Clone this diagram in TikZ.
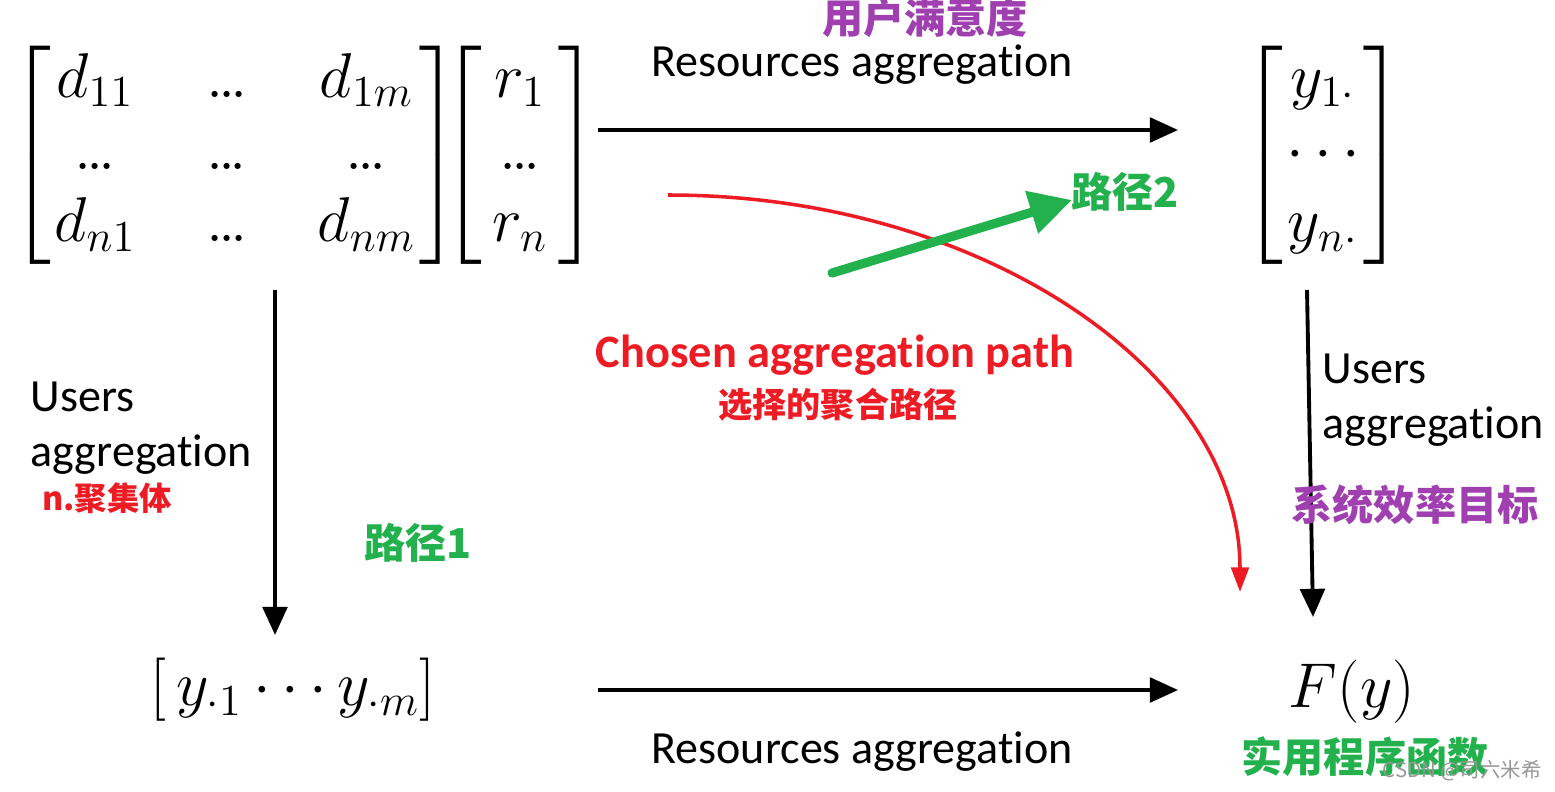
\RequirePackage{fix-cm}
\documentclass[tikz,border=0pt]{standalone}
\usepackage{amsmath}
\usepackage{fontspec}
\usetikzlibrary{arrows.meta,positioning}
\newfontfamily\calibri[Ligatures=CommonOff]{Carlito}
\newfontfamily\cjk{Noto Sans CJK SC}
\newcommand\mydots{{.}\mkern-1.5mu{.}\mkern-1.5mu{.}}
\definecolor{cnpurple}{RGB}{160,64,176}
\definecolor{cngreen}{RGB}{34,177,76}
\definecolor{cnred}{RGB}{237,28,36}
\definecolor{wmgray}{RGB}{150,150,150}

\begin{document}
\begin{tikzpicture}[x=0.01cm,y=-0.01cm,
  agg/.style={-{Triangle[length=8pt,width=7pt]},line width=1.1pt},
  eng/.style={inner sep=0pt,font=\calibri\fontsize{13.1}{15.6}\selectfont},
  mat/.style={inner sep=0pt,font=\fontsize{18}{20.5}\selectfont},
  note/.style={inner sep=0pt,font=\cjk\bfseries\fontsize{11.7}{14}\selectfont}]
\useasboundingbox (0,0) rectangle (1555,791);
% matrices
\node[mat] (dmat) at (235,155) {$\left[\begin{array}{@{\hspace{1pt}}c@{\hspace{20pt}}c@{\hspace{20pt}}c@{\hspace{1pt}}} d_{11} & \mydots & d_{1m}\\ \mydots & \mydots & \mydots\\ d_{n1} & \mydots & d_{nm}\end{array}\right]$};
\node[mat] (rvec) at (520,155) {$\left[\begin{array}{@{\hspace{3pt}}c@{\hspace{3pt}}} r_1\\ \mydots\\ r_n\end{array}\right]$};
\node[mat] (yvec) at (1323,155) {$\left[\begin{array}{@{\hspace{1pt}}c@{\hspace{1pt}}} y_{1\cdot}\\ \cdots\\ y_{n\cdot}\end{array}\right]$};
\node[mat] (ycol) at (293,690) {$\left[\,y_{\cdot 1}\cdots y_{\cdot m}\right]$};
\node[mat] (fy) at (1352,692) {$F(y)$};
% connector ends
\coordinate (t1) at (598,130); \coordinate (t2) at (1178,130);
\coordinate (b1) at (598,690); \coordinate (b2) at (1178,690);
\coordinate (l1) at (275,290); \coordinate (l2) at (275,635);
\coordinate (r1) at (1307,290); \coordinate (r2) at (1313,617);
\coordinate (c1) at (668,195); \coordinate (c2) at (1240,592);
\coordinate (g1) at (832,273); \coordinate (g2) at (1072,200);
\draw[agg] (t1) -- (t2);
\draw[agg] (b1) -- (b2);
\draw[agg] (l1) -- (l2);
\draw[agg] (r1) -- (r2);
\draw[cnred,line width=1pt,-{Triangle[length=7pt,width=5pt]}] (c1) .. controls (984,195) and (1240,373) .. (c2);
\draw[cngreen,line width=2.6pt,line cap=round,-{Triangle[length=12pt,width=12pt]}] (g1) -- (g2);
% labels
\node[eng] (ratop) at (862,65) {Resources aggregation};
\node[eng] (rabot) at (862,752) {Resources aggregation};
\node[eng,align=left,anchor=west] (ualeft) at (30,428) {Users\\aggregation};
\node[eng,align=left,anchor=west] (uaright) at (1322,400) {Users\\aggregation};
\node[inner sep=0pt,text=cnred,font=\calibri\bfseries\fontsize{13.2}{14}\selectfont] (chosen) at (835,355) {Chosen aggregation path};
% notes
\node[note,text=cnpurple] (satis) at (925,18) {用户满意度};
\node[note,text=cnred,font=\cjk\bfseries\fontsize{9.7}{12}\selectfont] (chosencn) at (838,405) {选择的聚合路径};
\node[note,text=cnred,font=\cjk\bfseries\fontsize{9.2}{12}\selectfont] (aggcn) at (107,498) {n.聚集体};
\node[note,text=cngreen] (path2) at (1125,192) {路径2};
\node[note,text=cngreen] (path1) at (418,543) {路径1};
\node[note,text=cnpurple] (effcn) at (1415,505) {系统效率目标};
\node[note,text=cngreen] (utilcn) at (1365,757) {实用程序函数};
\node[inner sep=0pt,text=wmgray,font=\cjk\fontsize{5.8}{7}\selectfont] (wmark) at (1462,771) {CSDN @司六米希};
\end{tikzpicture}
\end{document}
